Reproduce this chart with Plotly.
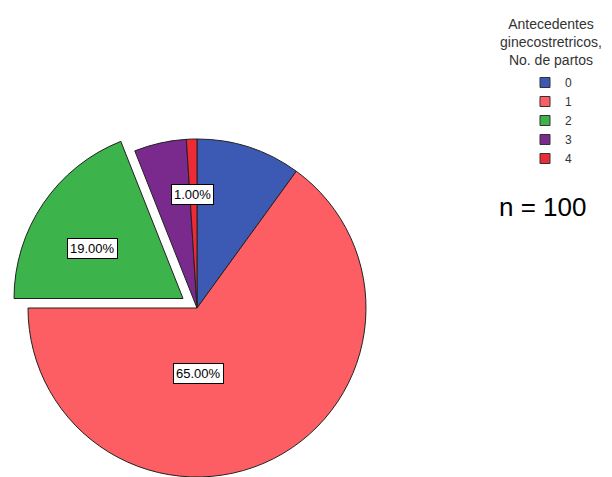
import math
import plotly.graph_objects as go

# ---- data ----
categories = ["0", "1", "2", "3", "4"]
percentages = [10, 65, 19, 5, 1]
show_label = [False, True, True, False, True]
legend_title = "Antecedentes<br>ginecostretricos,<br>No. de partos"
n_text = "n = 100"

# ---- style ----
colors = ["#3C5AB4", "#FC5E63", "#3CB44B", "#7A2A8C", "#EE2A36"]
pull = [0, 0, 0.1, 0, 0]
label_angle_frac = [0.5, 0.61, 0.42, 0.5, 0.3]   # position inside slice (fraction of slice angle)
label_radius_frac = [0.5, 0.39, 0.61, 0.5, 0.67]  # fraction of radius
FONT = "Arial, 'Liberation Sans', sans-serif"

WIN_W, WIN_H = 612, 477
BODY = 8                      # default page body margin
W, H = WIN_W - BODY, WIN_H - BODY
cx, cy = 197 - BODY, 308 - BODY   # pie centre in figure px (from top-left)
r = 169
TRANSPARENT = "rgba(0,0,0,0)"
LINE = "#222222"

total = sum(percentages)
starts = []
acc = 0
for v in percentages:
    starts.append(acc / total * 360)
    acc += v
spans = [v / total * 360 for v in percentages]


def domain_for(dx_px, dy_up_px):
    x0 = (cx - r + dx_px) / W
    x1 = (cx + r + dx_px) / W
    y0 = (H - cy - r + dy_up_px) / H
    y1 = (H - cy + r + dy_up_px) / H
    return dict(x=[max(0, x0), min(1, x1)], y=[max(0, y0), min(1, y1)])


def px_x(wx):
    return (wx - BODY) / W


def px_y(wy):
    return 1 - (wy - BODY) / H


fig = go.Figure()

pulled = [p > 0 for p in pull]

# main pie (non-pulled slices)
fig.add_trace(go.Pie(
    labels=categories, values=percentages, sort=False, direction="clockwise", rotation=0,
    marker=dict(colors=[TRANSPARENT if pl else c for pl, c in zip(pulled, colors)],
                line=dict(color=LINE, width=[0 if pl else 1 for pl in pulled])),
    textinfo="none", hoverinfo="skip", showlegend=False,
    domain=domain_for(0, 0),
))

# pulled slices
offsets = {}
for i, p in enumerate(pull):
    if p <= 0:
        continue
    mid = math.radians(starts[i] + spans[i] / 2)
    dx = math.sin(mid) * p * r
    dy_up = math.cos(mid) * p * r
    offsets[i] = (dx, dy_up)
    fig.add_trace(go.Pie(
        labels=categories, values=percentages, sort=False, direction="clockwise", rotation=0,
        marker=dict(colors=[c if j == i else TRANSPARENT for j, c in enumerate(colors)],
                    line=dict(color=[LINE if j == i else TRANSPARENT for j in range(len(colors))],
                              width=[1 if j == i else 0 for j in range(len(colors))])),
        textinfo="none", hoverinfo="skip", showlegend=False,
        domain=domain_for(dx, dy_up),
    ))

# legend entries
for cat, c in zip(categories, colors):
    fig.add_trace(go.Scatter(
        x=[None], y=[None], mode="markers", name=cat, showlegend=True,
        marker=dict(symbol="square", size=10, color=c, line=dict(color="#333", width=1)),
    ))

annotations = []
for i, v in enumerate(percentages):
    if not show_label[i]:
        continue
    ang = math.radians(starts[i] + spans[i] * label_angle_frac[i])
    dx, dy_up = offsets.get(i, (0, 0))
    px = cx + dx + math.sin(ang) * r * label_radius_frac[i]
    py = cy - dy_up - math.cos(ang) * r * label_radius_frac[i]
    annotations.append(dict(
        x=px / W, y=1 - py / H, xref="paper", yref="paper", showarrow=False,
        text=f"{v / total * 100:.2f}%", font=dict(family=FONT, size=13, color="black"),
        bgcolor="white", bordercolor="black", borderwidth=1, borderpad=2,
        xanchor="center", yanchor="middle",
    ))

# legend title (centered lines)
annotations.append(dict(
    x=px_x(551), y=px_y(14), xref="paper", yref="paper", showarrow=False,
    text=legend_title, align="center", font=dict(family=FONT, size=14, color="#333"),
    xanchor="center", yanchor="top",
))

annotations.append(dict(
    x=px_x(542), y=px_y(207), xref="paper", yref="paper", showarrow=False,
    text=n_text, font=dict(family=FONT, size=26, color="black"),
    xanchor="center", yanchor="middle",
))

fig.update_layout(
    width=W, height=H, margin=dict(l=0, r=0, t=0, b=0, autoexpand=False),
    paper_bgcolor="white", plot_bgcolor="white",
    font=dict(family=FONT),
    xaxis=dict(visible=False), yaxis=dict(visible=False),
    showlegend=True,
    legend=dict(
        font=dict(family=FONT, size=12, color="#333"),
        x=px_x(525), xanchor="left", y=px_y(68), yanchor="top",
        bgcolor="rgba(0,0,0,0)", itemclick=False, itemdoubleclick=False,
    ),
    annotations=annotations,
)

fig.write_html("out.html")
